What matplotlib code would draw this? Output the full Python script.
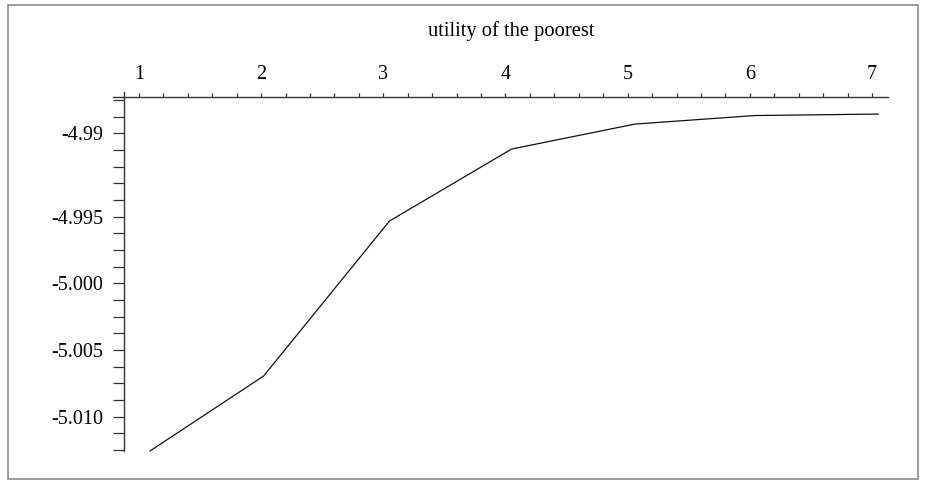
import numpy as np
import matplotlib
matplotlib.use("Agg")
import matplotlib.pyplot as plt
from matplotlib.patches import Rectangle

plt.rcParams['font.family'] = ['Liberation Serif', 'DejaVu Serif']

# values
x = [1.09, 2.02, 3.05, 4.05, 5.06, 6.04, 7.05]
y = [-5.01257, -5.00695, -4.99533, -4.98993, -4.98806, -4.98742, -4.98731]

xticks = [1, 2, 3, 4, 5, 6, 7]
yticks = [-4.98875, -4.995, -5.000, -5.005, -5.010]
ytick_labels = ['-4.99', '-4.995', '-5.000', '-5.005', '-5.010']
xlabel = 'utility of the poorest'

W, H = 926, 480
fig = plt.figure(figsize=(W / 100, H / 100), dpi=100)
ax = fig.add_axes([113 / W, 1 - 451 / H, (888 - 113) / W, (451 - 97) / H])

ax.plot(x, y, color='#111111', lw=0.9, clip_on=False)

ax.set_xlim(0.7872, 7.131)
ax.set_ylim(-5.01257, -4.98603)

for s in ['bottom', 'right']:
    ax.spines[s].set_visible(False)
ax.spines['left'].set_position(('data', 0.8772))
ax.spines['left'].set_bounds(-5.01257, -4.98566)  # pokes a bit above the x axis
for s in ['top', 'left']:
    ax.spines[s].set_color('#333333')
    ax.spines[s].set_linewidth(1.0)

ax.xaxis.tick_top()
ax.set_xticks(xticks)
ax.set_xticks(np.arange(1.0, 7.01, 0.2), minor=True)
ax.set_yticks(yticks)
ax.set_yticklabels(ytick_labels)
ax.set_yticks(np.arange(-5.0125, -4.9862, 0.00125), minor=True)

ax.tick_params(axis='x', which='both', direction='out', length=3.2, width=0.9,
               color='#333333', pad=6, labelsize=14.5)
ax.tick_params(axis='y', which='both', direction='out', length=8, width=0.9,
               color='#333333', pad=7, labelsize=14.5)

fig.text(511 / W, 1 - 31 / H, xlabel, ha='center', va='center', fontsize=14.8)

fig.patches.append(Rectangle((8 / W, 1 - 479 / H), (918 - 8) / W, (479 - 5) / H,
                             transform=fig.transFigure, fill=False,
                             edgecolor='#808080', lw=1.1))

fig.savefig('out.png', dpi=100)
